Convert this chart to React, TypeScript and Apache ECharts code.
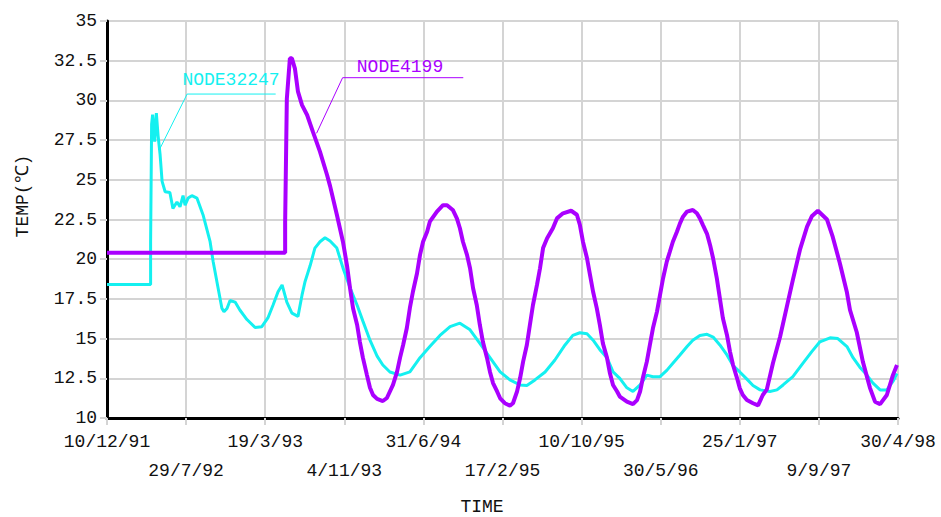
import React, { useEffect, useRef } from "react";
import * as echarts from "echarts";

const dateLabels = ["10/12/91", "29/7/92", "19/3/93", "4/11/93", "31/6/94", "17/2/95", "10/10/95", "30/5/96", "25/1/97", "9/9/97", "30/4/98"];
const DAYS_PER_TICK = 234;

// NODE32247 (cyan): day offset from 10/12/91, temperature
const node32247Day = [0, 129, 129, 132, 135, 141, 146, 151, 157, 163, 172, 186, 195, 207, 216, 225, 231, 240, 251, 266, 284, 305, 314, 325, 340, 346, 355, 364, 379, 393, 414, 438, 458, 476, 491, 506, 518, 532, 547, 565, 577, 586, 601, 615, 630, 645, 660, 680, 698, 719, 740, 757, 778, 799, 816, 837, 867, 896, 926, 955, 985, 1015, 1044, 1074, 1103, 1133, 1163, 1192, 1222, 1242, 1266, 1296, 1325, 1355, 1378, 1399, 1420, 1438, 1458, 1479, 1497, 1517, 1538, 1556, 1577, 1597, 1615, 1636, 1656, 1674, 1695, 1716, 1733, 1754, 1775, 1793, 1813, 1834, 1852, 1872, 1893, 1911, 1932, 1961, 1982, 2000, 2029, 2059, 2085, 2109, 2139, 2162, 2189, 2207, 2227, 2248, 2266, 2287, 2307, 2325, 2337];
const node32247Temp = [18.4, 18.4, 21.1, 28.5, 29.1, 27.4, 29.2, 27.8, 26.6, 24.9, 24.25, 24.2, 23.2, 23.6, 23.3, 24.0, 23.4, 23.85, 24.0, 23.85, 22.8, 21.1, 19.85, 18.6, 16.9, 16.7, 16.9, 17.4, 17.3, 16.8, 16.2, 15.7, 15.75, 16.3, 17.1, 17.95, 18.38, 17.3, 16.6, 16.4, 17.75, 18.6, 19.6, 20.7, 21.1, 21.35, 21.15, 20.7, 19.45, 18.2, 17.1, 16.1, 14.9, 13.9, 13.34, 12.9, 12.7, 12.9, 13.8, 14.5, 15.2, 15.75, 15.97, 15.55, 14.7, 13.8, 12.9, 12.4, 12.08, 12.05, 12.4, 12.9, 13.65, 14.6, 15.2, 15.37, 15.3, 14.9, 14.3, 13.8, 12.9, 12.5, 11.9, 11.67, 12.08, 12.7, 12.6, 12.6, 13.0, 13.45, 13.97, 14.5, 14.9, 15.2, 15.27, 15.1, 14.6, 13.97, 13.3, 12.9, 12.45, 12.05, 11.77, 11.67, 11.77, 12.08, 12.6, 13.45, 14.18, 14.8, 15.05, 15.0, 14.5, 13.8, 13.2, 12.7, 12.2, 11.77, 11.77, 12.3, 12.8];

// NODE4199 (purple)
const node4199Day = [0, 527, 527, 532, 541, 547, 556, 565, 577, 592, 609, 630, 651, 660, 680, 698, 710, 719, 728, 740, 748, 757, 769, 778, 787, 799, 816, 828, 846, 858, 867, 876, 887, 896, 905, 917, 926, 935, 947, 955, 976, 994, 1006, 1023, 1035, 1044, 1053, 1065, 1074, 1083, 1094, 1103, 1112, 1124, 1133, 1142, 1154, 1163, 1177, 1192, 1201, 1213, 1222, 1231, 1242, 1251, 1260, 1272, 1281, 1290, 1302, 1319, 1331, 1349, 1373, 1390, 1399, 1408, 1420, 1429, 1438, 1449, 1458, 1467, 1479, 1488, 1497, 1509, 1517, 1538, 1556, 1568, 1577, 1585, 1597, 1606, 1615, 1627, 1636, 1645, 1656, 1665, 1674, 1686, 1695, 1704, 1716, 1733, 1745, 1754, 1763, 1775, 1784, 1793, 1804, 1813, 1822, 1834, 1843, 1852, 1864, 1872, 1881, 1893, 1911, 1926, 1940, 1952, 1970, 1991, 2011, 2029, 2050, 2071, 2085, 2103, 2130, 2147, 2168, 2189, 2198, 2218, 2236, 2257, 2272, 2287, 2307, 2325, 2337];
const node4199Temp = [20.4, 20.4, 22.3, 30.1, 32.65, 32.65, 32.0, 30.55, 29.7, 29.08, 28.03, 26.77, 25.3, 24.6, 22.8, 21.1, 19.6, 18.17, 16.9, 15.86, 14.8, 13.8, 12.7, 11.9, 11.45, 11.2, 11.07, 11.26, 12.08, 12.9, 13.8, 14.6, 15.67, 16.93, 17.95, 19.1, 20.27, 21.1, 21.73, 22.36, 23.0, 23.4, 23.4, 23.1, 22.57, 21.95, 21.1, 20.27, 19.43, 18.17, 17.1, 15.86, 14.8, 13.8, 12.9, 12.2, 11.67, 11.24, 10.93, 10.78, 10.93, 11.67, 12.5, 13.55, 14.6, 15.86, 17.1, 18.38, 19.43, 20.7, 21.32, 21.95, 22.57, 22.89, 23.05, 22.8, 22.15, 21.1, 20.06, 19.0, 17.95, 16.9, 15.86, 14.7, 13.8, 12.8, 12.08, 11.67, 11.35, 11.03, 10.87, 11.13, 11.67, 12.5, 13.55, 14.6, 15.65, 16.7, 17.75, 18.8, 19.85, 20.47, 21.1, 21.73, 22.26, 22.68, 23.0, 23.1, 22.89, 22.57, 22.15, 21.6, 20.9, 20.06, 18.8, 17.54, 16.28, 15.23, 14.18, 13.34, 12.5, 11.87, 11.45, 11.13, 10.93, 10.8, 11.45, 11.8, 13.45, 15.1, 17.0, 18.7, 20.6, 22.05, 22.7, 23.05, 22.5, 21.4, 19.75, 17.9, 16.8, 15.4, 13.55, 11.9, 11.03, 10.87, 11.45, 12.7, 13.34];

// annotation leader lines (data space): anchor, elbow, end
const label32247Line = [[157, 26.98], [237, 30.4], [499, 30.4]];
const label32247Text = [223, 31.3];
const label4199Line = [[620, 27.93], [697, 31.43], [1054, 31.43]];
const label4199Text = [739, 32.12];

const CYAN = "#14f0f0";
const PURPLE = "#aa00ff";
const FONT = "Liberation Mono";
const GRID_GRAY = "#d4d4d4";

export default function App() {
  const ref = useRef<HTMLDivElement>(null);
  useEffect(() => {
    document.body.style.margin = "0";
    const chart = echarts.init(ref.current!, null, { renderer: "svg" });
    const zip = (xs: number[], ys: number[]) => xs.map((x, i) => [x, ys[i]]);
    const labelFor = (v: number, odd: boolean) => {
      const i = Math.round(v / DAYS_PER_TICK);
      return (i % 2 === 1) === odd ? dateLabels[i] ?? "" : "";
    };
    const baseX = {
      type: "value",
      min: 0,
      max: DAYS_PER_TICK * 10,
      interval: DAYS_PER_TICK,
      position: "bottom",
    };
    const option: any = {
      animation: false,
      backgroundColor: "#ffffff",
      grid: { left: 107, right: 43, top: 21, bottom: 99, containLabel: false },
      xAxis: [
        {
          ...baseX,
          axisLine: { show: true, onZero: false, lineStyle: { color: "#000", width: 3 } },
          axisTick: { show: true, length: 7, lineStyle: { color: GRID_GRAY, width: 2 } },
          splitLine: { show: true, lineStyle: { color: GRID_GRAY, width: 2 } },
          axisLabel: {
            margin: 15,
            fontFamily: FONT,
            fontSize: 18,
            color: "#111",
            hideOverlap: false,
            showMinLabel: true,
            showMaxLabel: true,
            formatter: (v: number) => labelFor(v, false),
          },
        },
        {
          ...baseX,
          axisLine: { show: false, onZero: false },
          axisTick: { show: false },
          splitLine: { show: false },
          axisLabel: {
            margin: 44,
            fontFamily: FONT,
            fontSize: 18,
            color: "#111",
            hideOverlap: false,
            formatter: (v: number) => labelFor(v, true),
          },
        },
      ],
      yAxis: {
        type: "value",
        min: 10,
        max: 35,
        interval: 2.5,
        axisLine: { show: true, onZero: false, lineStyle: { color: "#000", width: 3 } },
        axisTick: { show: true, length: 7, lineStyle: { color: GRID_GRAY, width: 2 } },
        splitLine: { show: true, lineStyle: { color: GRID_GRAY, width: 2 } },
        axisLabel: { margin: 10, fontFamily: FONT, fontSize: 18, color: "#111" },
      },
      series: [
        {
          name: "NODE32247",
          type: "line",
          data: zip(node32247Day, node32247Temp),
          showSymbol: false,
          lineStyle: { color: CYAN, width: 3 },
          z: 3,
        },
        {
          name: "NODE4199",
          type: "line",
          data: zip(node4199Day, node4199Temp),
          showSymbol: false,
          lineStyle: { color: PURPLE, width: 4 },
          z: 4,
        },
        {
          type: "line",
          data: label32247Line,
          showSymbol: false,
          lineStyle: { color: CYAN, width: 1 },
          z: 5,
          silent: true,
        },
        {
          type: "line",
          data: label4199Line,
          showSymbol: false,
          lineStyle: { color: PURPLE, width: 1 },
          z: 5,
          silent: true,
        },
      ],
    };
    chart.setOption(option);
    const p1 = chart.convertToPixel({ gridIndex: 0 }, label32247Text) as number[];
    const p2 = chart.convertToPixel({ gridIndex: 0 }, label4199Text) as number[];
    chart.setOption({
      graphic: [
        {
          type: "text",
          x: p1[0],
          y: p1[1],
          style: { text: "NODE32247", fill: CYAN, font: `18px "${FONT}"`, verticalAlign: "middle", align: "left" },
          z: 10,
        },
        {
          type: "text",
          x: p2[0],
          y: p2[1],
          style: { text: "NODE4199", fill: PURPLE, font: `18px "${FONT}"`, verticalAlign: "middle", align: "left" },
          z: 10,
        },
        {
          type: "text",
          x: 23,
          y: 196,
          rotation: Math.PI / 2,
          style: { text: "TEMP(℃)", fill: "#111", font: `18px "${FONT}"`, align: "center", verticalAlign: "middle" },
        },
        {
          type: "text",
          x: 482,
          y: 507,
          style: { text: "TIME", fill: "#111", font: `18px "${FONT}"`, align: "center", verticalAlign: "middle" },
        },
      ],
    });
    return () => chart.dispose();
  }, []);
  return <div ref={ref} style={{ width: 941, height: 517 }} />;
}
